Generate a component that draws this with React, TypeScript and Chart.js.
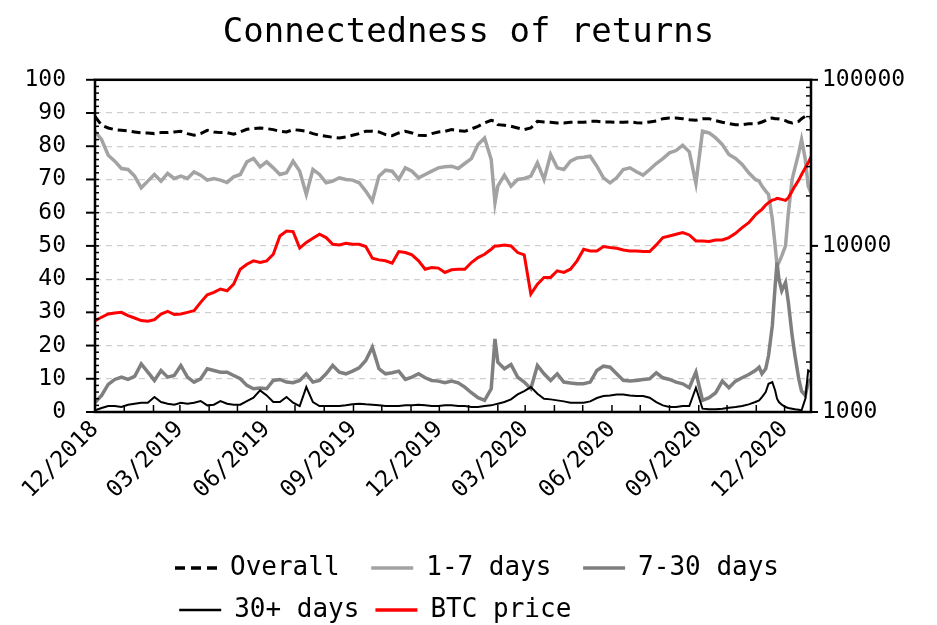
import React, { useEffect, useRef } from 'react';
import { Chart, registerables } from 'chart.js';

Chart.register(...registerables);

const FONT = "'DejaVu Sans Mono', monospace";

// x positions: days counted from the "12/2018" tick
const days = [
  0, 7, 14, 21, 28, 35, 42, 49, 56, 63,
  70, 77, 84, 91, 98, 105, 112, 119, 126, 133,
  140, 147, 154, 161, 168, 175, 182, 189, 196, 203,
  210, 217, 224, 231, 238, 245, 252, 259, 266, 273,
  280, 287, 294, 301, 308, 315, 322, 329, 336, 343,
  350, 357, 364, 371, 378, 385, 392, 399, 406, 413,
  420, 424, 427, 434, 441, 448, 455, 462, 469, 476, 483,
  490, 497, 504, 511, 518, 525, 532, 539, 546, 553,
  560, 567, 574, 581, 588, 595, 602, 609, 616, 623,
  630, 637, 644, 651, 658, 665, 672, 679, 686, 693,
  700, 704, 707, 711, 714, 718, 721, 723, 725, 728, 732, 735, 739, 742, 746, 749, 753, 756, 759,
];

const overall = [
  89, 86.3, 85.5, 85, 84.8, 84.6, 84.3, 84, 84, 83.8,
  84.1, 84.1, 84.3, 84.5, 83.8, 83.3, 83.8, 84.8, 84.3, 84.1,
  84.1, 83.6, 84.3, 85.1, 85.3, 85.5, 85.3, 85, 84.5, 84.3,
  85, 84.8, 84.5, 83.8, 83.3, 83, 82.7, 82.5, 82.8, 83.3,
  83.8, 84.5, 84.5, 84.3, 83.5, 83.2, 84, 84.5, 84, 83.3,
  83.2, 83.8, 84.3, 84.5, 85, 84.7, 84.5, 85.2, 86, 87,
  87.8, 87.5, 86.5, 86.3, 86, 85.5, 85, 85.5, 87.5, 87.3, 87.2,
  87, 87, 87.2, 87.2, 87.2, 87.5, 87.5, 87.3, 87.3, 87.2,
  87.2, 87.3, 87.1, 87, 87.3, 87.6, 88.3, 88.5, 88.5, 88.3,
  88, 87.8, 88.3, 88.3, 87.7, 87.2, 86.8, 86.5, 86.5, 86.8,
  86.8, 87, 87.3, 87.8, 88.3, 88.5, 88.3, 88.3, 88.2, 88, 87.7, 87.3, 87, 87.3, 87.5, 88.3, 89, 88.8, 88.5,
];

const days1to7 = [
  84.5, 82, 77.3, 75.5, 73.3, 73, 71, 67.5, 69.5, 71.5,
  69.5, 71.8, 70.3, 71, 70.3, 72.3, 71.3, 69.8, 70.3, 69.8,
  69.1, 70.8, 71.5, 75.3, 76.3, 73.8, 75.3, 73.5, 71.5, 72,
  75.5, 72.5, 65.5, 73, 71.5, 69, 69.5, 70.5, 70, 69.8,
  69, 66.5, 63.5, 71, 72.8, 72.5, 70, 73.5, 72.5, 70.5,
  71.5, 72.5, 73.5, 73.8, 74, 73.3, 74.8, 76.3, 80.5, 82.5,
  76, 63, 68, 71.3, 68, 70, 70.3, 71, 75, 70, 77.5,
  73.5, 73, 75.5, 76.5, 76.7, 77, 74, 70.5, 69, 70.5,
  73, 73.5, 72.3, 71.3, 73, 74.8, 76.3, 78, 78.7, 80.3,
  78.3, 68.8, 84.5, 84, 82.5, 80.5, 77.5, 76.3, 74.5, 72,
  70, 69.5, 68, 66.5, 65.5, 58, 50, 44, 45, 47, 50, 60, 70, 73.5, 78, 82, 76, 68, 66,
];

const days7to30 = [
  2.8, 5, 8.3, 9.8, 10.5, 9.8, 10.7, 14.5, 12, 9.5,
  12.5, 10.5, 11, 14, 10.5, 9, 10, 13, 12.5, 12,
  12, 11, 10, 8, 7, 7.2, 7, 9.5, 9.8, 9,
  8.8, 9.5, 11.5, 9, 9.5, 11.5, 14, 12, 11.5, 12.3,
  13.3, 15.5, 19.5, 13, 11.5, 11.8, 12.3, 9.8, 10.5, 11.5,
  10.3, 9.5, 9.3, 8.8, 9.3, 8.8, 7.5, 5.8, 4.3, 3.5,
  7, 22, 15, 13, 14.3, 10.5, 9, 7, 14, 11.5, 9.5,
  11.5, 9, 8.7, 8.5, 8.5, 9, 12.5, 13.8, 13.5, 11.5,
  9.5, 9.3, 9.5, 9.8, 10, 11.8, 10.3, 9.8, 9, 8.5,
  7.3, 12, 3.5, 4.3, 5.8, 9.3, 7.3, 9.3, 10.3, 11.3,
  12.5, 13.5, 11.5, 13, 17, 26, 38, 45, 40, 36.5, 39, 33, 23, 17, 10, 6.3, 5, 9, 10,
];

const days30plus = [
  0.5, 1.2, 1.8, 1.8, 1.5, 2.2, 2.5, 2.8, 2.8, 4.5,
  3, 2.5, 2.2, 2.8, 2.5, 2.8, 3.3, 2, 2.2, 3.3,
  2.5, 2.2, 2.2, 3.3, 4.3, 6.5, 5, 3, 3, 4.5,
  2.8, 1.8, 7.5, 3, 1.8, 1.8, 1.8, 1.8, 2, 2.3,
  2.5, 2.3, 2.2, 2, 1.8, 1.8, 1.8, 2, 2, 2.2,
  2, 1.8, 1.8, 2, 2, 1.8, 1.8, 1.5, 1.5, 1.8,
  2, 2.3, 2.5, 3, 3.8, 5.3, 6.3, 7.5, 5.5, 4, 3.8,
  3.5, 3.2, 2.8, 2.8, 2.8, 3.2, 4.2, 4.8, 5, 5.3,
  5.3, 5, 4.8, 4.8, 4.3, 3, 2, 1.5, 1.5, 1.8,
  1.8, 7.3, 1, 0.8, 0.8, 1, 1.3, 1.5, 1.8, 2.3,
  3, 3.5, 4.5, 6, 8.5, 9, 6.5, 4, 3, 2.2, 1.5, 1.2, 1, 0.8, 0.7, 0.5, 4, 12.5, 12,
];

const btcPrice = [
  3550, 3720, 3890, 3950, 3980, 3800, 3680, 3550, 3520, 3600,
  3890, 4040, 3860, 3890, 3980, 4070, 4570, 5080, 5250, 5500,
  5370, 5890, 7240, 7760, 8130, 7940, 8130, 8910, 11480, 12300,
  12190, 9700, 10500, 11120, 11750, 11220, 10230, 10140, 10380, 10230,
  10230, 9910, 8430, 8240, 8130, 7870, 9250, 9120, 8830, 8130,
  7240, 7410, 7350, 6920, 7180, 7240, 7240, 7940, 8510, 8910,
  9550, 10000, 10000, 10140, 10000, 9120, 8830, 5130, 5890, 6460, 6460,
  7080, 6920, 7240, 8130, 9550, 9330, 9330, 9910, 9770, 9680,
  9460, 9330, 9330, 9250, 9250, 10140, 11220, 11480, 11750, 12020,
  11640, 10720, 10720, 10620, 10860, 10860, 11220, 11910, 12880, 13800,
  15350, 16070, 16600, 17620, 18200, 18880, 19060, 19320, 19230, 19060, 18790, 19500, 21380, 22910, 24890, 26920, 29510, 31620, 34360,
];

// monthly ticks; quarterly ones carry a label
const tickMonths = [
  '12/2018', '01/2019', '02/2019', '03/2019', '04/2019', '05/2019', '06/2019',
  '07/2019', '08/2019', '09/2019', '10/2019', '11/2019', '12/2019',
  '01/2020', '02/2020', '03/2020', '04/2020', '05/2020', '06/2020',
  '07/2020', '08/2020', '09/2020', '10/2020', '11/2020', '12/2020',
];
const labeledMonths = ['03', '06', '09', '12'];

const leftTicks = [0, 10, 20, 30, 40, 50, 60, 70, 80, 90, 100];
const rightTickLabels = [1000, 10000, 100000];

const seriesLabels = ['Overall', '1-7 days', '7-30 days', '30+ days', 'BTC price'];
// trailing spaces keep the two legend rows in aligned columns
const legendTexts = ['Overall ', '1-7 days ', '7-30 days', '30+ days', 'BTC price             '];

const monthDay = (s: string) => {
  const [mm, yyyy] = s.split('/');
  return (Date.UTC(+yyyy, +mm - 1, 1) - Date.UTC(2018, 11, 1)) / 86400000;
};
const tickDays = tickMonths.map(monthDay);

const toXY = (vals: number[]) => days.map((d, i) => ({ x: d, y: vals[i] }));

const decorPlugin = {
  id: 'decor',
  afterLayout(chart: any) {
    const lg = chart.legend;
    if (lg) {
      lg.top += 8;
      lg.bottom += 8;
      lg.left += 24;
      lg.right += 24;
    }
  },
  afterDraw(chart: any) {
    const { ctx, chartArea: a, scales } = chart;
    const xs = scales.x;
    const ys = scales.y;
    const y1 = scales.y1;
    const line = (x1: number, yA: number, x2: number, yB: number) => {
      ctx.beginPath();
      ctx.moveTo(x1, yA);
      ctx.lineTo(x2, yB);
      ctx.stroke();
    };
    ctx.save();
    ctx.strokeStyle = '#000';
    ctx.lineCap = 'butt';
    // left axis
    for (let v = 0; v <= 100; v += 2) {
      const py = ys.getPixelForValue(v);
      ctx.lineWidth = 1.5;
      line(a.left, py, a.left + 4, py);
    }
    for (const v of leftTicks) {
      const py = ys.getPixelForValue(v);
      ctx.lineWidth = 2;
      line(a.left - 9, py, a.left, py);
    }
    // right axis (log)
    for (let e = 1000; e < 100000; e *= 10) {
      for (let k = 2; k <= 9; k++) {
        const py = y1.getPixelForValue(k * e);
        ctx.lineWidth = 1.5;
        line(a.right - 5, py, a.right, py);
      }
    }
    for (const v of rightTickLabels) {
      const py = y1.getPixelForValue(v);
      ctx.lineWidth = 2;
      line(a.right, py, a.right + 7, py);
    }
    // bottom axis
    for (const d of tickDays) {
      const px = xs.getPixelForValue(d);
      ctx.lineWidth = 1.5;
      line(px, a.bottom, px, a.bottom - 7);
    }
    // frame
    ctx.lineWidth = 2.5;
    ctx.strokeRect(a.left, a.top, a.right - a.left, a.bottom - a.top);
    ctx.restore();
  },
};

export default function App() {
  const canvasRef = useRef<HTMLCanvasElement | null>(null);

  useEffect(() => {
    if (!canvasRef.current) return;
    const colors = ['#000000', '#a3a3a3', '#7f7f7f', '#000000', '#ff0000'];
    const widths = [3, 3.5, 3.5, 2, 3];
    const seriesData = [overall, days1to7, days7to30, days30plus, btcPrice];
    const datasets = seriesData.map((vals, i) => ({
      label: seriesLabels[i],
      data: toXY(vals),
      borderColor: colors[i],
      backgroundColor: colors[i],
      borderWidth: widths[i],
      borderDash: i === 0 ? [9, 5] : [],
      pointRadius: 0,
      tension: 0,
      fill: false,
      yAxisID: i === 4 ? 'y1' : 'y',
      order: 5 - i,
    }));

    const chart = new Chart(canvasRef.current, {
      type: 'line',
      data: { datasets },
      plugins: [decorPlugin],
      options: {
        responsive: false,
        animation: false,
        devicePixelRatio: 1,
        layout: { padding: 0 },
        scales: {
          x: {
            type: 'linear',
            min: 0,
            max: 759,
            grid: { display: false, drawTicks: false },
            border: { display: false },
            afterBuildTicks: (s: any) => {
              s.ticks = tickDays.map((v) => ({ value: v }));
            },
            afterFit: (s: any) => {
              s.height = 119;
            },
            ticks: {
              autoSkip: false,
              maxRotation: 45,
              minRotation: 45,
              padding: 4,
              color: '#000',
              font: { family: FONT, size: 23 },
              callback: (v: any) => {
                const i = tickDays.indexOf(Number(v));
                if (i < 0) return '';
                const lab = tickMonths[i];
                return labeledMonths.includes(lab.slice(0, 2)) ? lab : '';
              },
            },
          },
          y: {
            type: 'linear',
            position: 'left',
            min: 0,
            max: 100,
            afterBuildTicks: (s: any) => {
              s.ticks = leftTicks.map((v) => ({ value: v }));
            },
            afterFit: (s: any) => {
              s.width = 95;
            },
            grid: {
              drawTicks: false,
              lineWidth: 1.2,
              color: (c: any) => (c.tick && c.tick.value > 0 && c.tick.value < 100 ? '#cfcfcf' : 'rgba(0,0,0,0)'),
            },
            border: { display: false, dash: [6, 5] },
            ticks: { padding: 29, color: '#000', font: { family: FONT, size: 23 } },
          },
          y1: {
            type: 'logarithmic',
            position: 'right',
            min: 1000,
            max: 100000,
            afterBuildTicks: (s: any) => {
              s.ticks = rightTickLabels.map((v) => ({ value: v }));
            },
            afterFit: (s: any) => {
              s.width = 126;
            },
            grid: { display: false, drawTicks: false },
            border: { display: false },
            ticks: {
              autoSkip: false,
              padding: 11,
              color: '#000',
              font: { family: FONT, size: 23 },
              callback: (v: any) => String(v),
            },
          },
        },
        plugins: {
          title: {
            display: true,
            text: 'Connectedness of returns',
            color: '#000',
            font: { family: FONT, size: 34, weight: 'normal' },
            padding: { top: 13, bottom: 26 },
          },
          legend: {
            display: true,
            position: 'bottom',
            align: 'center',
            fullSize: false,
            labels: {
              usePointStyle: true,
              pointStyleWidth: 42,
              padding: 16,
              color: '#000',
              font: { family: FONT, size: 26 },
              generateLabels: (ch: any) =>
                ch.data.datasets.map((ds: any, i: number) => ({
                  text: legendTexts[i],
                  fillStyle: ds.borderColor,
                  strokeStyle: ds.borderColor,
                  lineWidth: i === 3 ? 2.5 : 3.5,
                  lineDash: i === 0 ? [10, 6] : [],
                  lineCap: 'butt',
                  pointStyle: 'line',
                  hidden: !ch.isDatasetVisible(i),
                  datasetIndex: i,
                  fontColor: '#000',
                })),
            },
          },
          tooltip: { enabled: false },
        },
      } as any,
    });
    return () => chart.destroy();
  }, []);

  return (
    <div style={{ position: 'fixed', left: 0, top: 0, width: 937, height: 625, background: '#fff' }}>
      <canvas ref={canvasRef} width={937} height={625} style={{ display: 'block' }} />
    </div>
  );
}
